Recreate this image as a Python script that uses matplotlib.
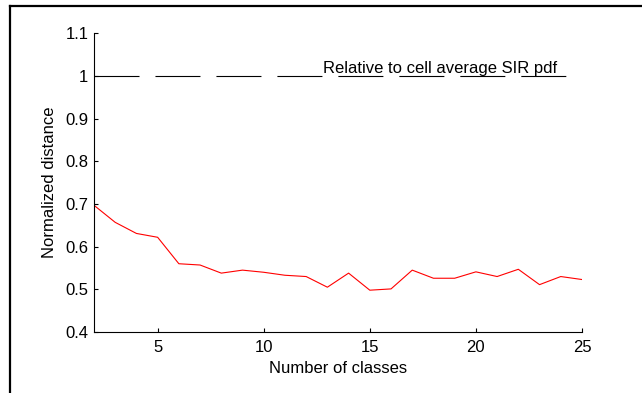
import matplotlib
matplotlib.use("Agg")
import matplotlib.pyplot as plt
from matplotlib.lines import Line2D

plt.rcParams['font.family'] = ['Liberation Sans', 'DejaVu Sans']
plt.rcParams['lines.scale_dashes'] = False

# data
classes = list(range(2, 26))
distance = [0.697, 0.657, 0.631, 0.622, 0.560, 0.557, 0.538, 0.545, 0.540, 0.533,
            0.530, 0.505, 0.538, 0.498, 0.501, 0.545, 0.526, 0.526, 0.541, 0.530,
            0.547, 0.511, 0.530, 0.523]
reference_level = [1.0] * len(classes)
legend_text = "Relative to cell average SIR pdf"

fig = plt.figure(figsize=(6.42, 3.93), dpi=100)
ax = fig.add_axes([0.1464, 0.1552, 0.7601, 0.76])

ax.plot(classes, reference_level, color='black', linewidth=0.8, dashes=(32.4, 11.5))
ax.plot(classes, distance, color='red', linewidth=0.8)
ax.text(12.8, 1.006, legend_text, fontsize=12, va='baseline', ha='left')

ax.set_xlim(2, 25)
ax.set_ylim(0.4, 1.1)
ax.set_xticks([5, 10, 15, 20, 25])
ax.set_yticks([0.4, 0.5, 0.6, 0.7, 0.8, 0.9, 1.0, 1.1])
ax.set_yticklabels(['0.4', '0.5', '0.6', '0.7', '0.8', '0.9', '1', '1.1'])
ax.tick_params(direction='in', length=3, width=0.8, labelsize=12)
ax.tick_params(axis='x', pad=6)
ax.tick_params(axis='y', pad=4)
ax.spines['top'].set_visible(False)
ax.spines['right'].set_visible(False)
ax.spines['left'].set_linewidth(0.8)
ax.spines['bottom'].set_linewidth(0.8)
ax.set_xlabel('Number of classes', fontsize=12, labelpad=4)
ax.set_ylabel('Normalized distance', fontsize=12, labelpad=6)

# frame at the image edge (top and left)
fig.add_artist(Line2D([0.0156, 1.0], [0.9860, 0.9860], color='black', linewidth=1.6,
                      transform=fig.transFigure))
fig.add_artist(Line2D([0.0156, 0.0156], [0.0, 0.9860], color='black', linewidth=1.6,
                      transform=fig.transFigure))

fig.savefig('out.png', dpi=100)
